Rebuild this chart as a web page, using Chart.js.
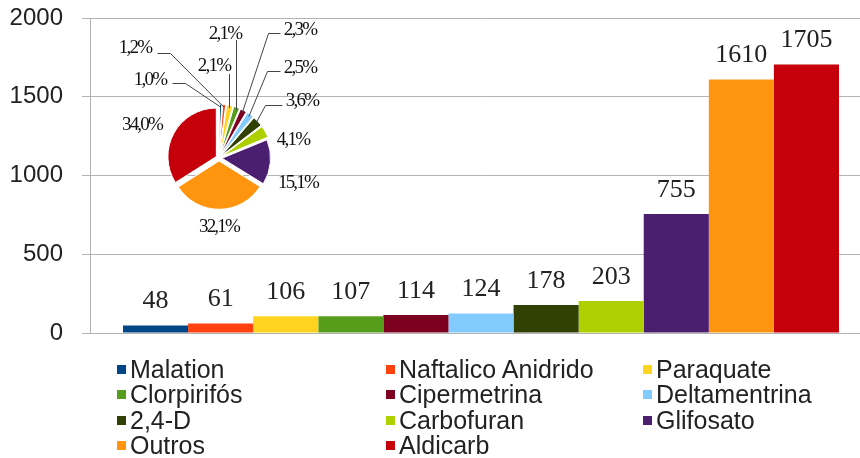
<!DOCTYPE html>
<html>
<head>
<meta charset="utf-8">
<script src="https://cdn.jsdelivr.net/npm/chart.js@4.4.1/dist/chart.umd.min.js"></script>
<style>
  html, body { margin: 0; padding: 0; background: #fff; overflow: hidden; }
  #wrap { position: relative; width: 860px; height: 458px; overflow: hidden; }
  #barCanvas, #pieCanvas { position: absolute; left: 0; top: 0; }
  #pieCanvas { pointer-events: none; }
  #legend {
    position: absolute; left: 117px; top: 357px;
    display: grid; grid-template-columns: 269px 257px auto; grid-auto-rows: 25.3px;
    font: 25px "Liberation Sans", Arial, sans-serif; color: #222;
  }
  .item { display: flex; align-items: center; white-space: nowrap; }
  .sw { width: 9px; height: 9px; margin-right: 4px; flex: none; }
</style>
</head>
<body>
<div id="wrap">
  <canvas id="barCanvas" width="872" height="458"></canvas>
  <canvas id="pieCanvas" width="860" height="458"></canvas>
  <div id="legend"></div>
</div>
<script>
// pesticide names, counts and series colours
const names = ['Malation', 'Naftalico  Anidrido', 'Paraquate', 'Clorpirifós', 'Cipermetrina',
  'Deltamentrina', '2,4-D', 'Carbofuran', 'Glifosato', 'Outros', 'Aldicarb'];
const counts = [48, 61, 106, 107, 114, 124, 178, 203, 755, 1610, 1705];
const colors = ['#004586', '#ff420e', '#ffd320', '#579d1c', '#7e0021',
  '#83caff', '#314004', '#aecf00', '#4b1f6f', '#ff950e', '#c5000b'];
const yTicks = [0, 500, 1000, 1500, 2000];

// where each pie percentage sits, relative to the pie centre, plus its leader line
const pieSpots = [
  { text: [-69, -78], elbow: [[-47, -75], [-34, -75]] },
  { text: [-84, -110], elbow: [[-62, -105], [-49, -105]] },
  { text: [-5, -92], drop: -84 },
  { text: [6, -124], drop: -118 },
  { text: [81, -128], elbow: [[61, -125], [49, -125]] },
  { text: [81, -90], elbow: [[61, -87], [48, -87]] },
  { text: [83, -57], elbow: [[63, -53], [46, -53]] },
  { text: [74, -18] },
  { text: [79, 25] },
  { text: [0, 69] },
  { text: [-77, -33] }
];

const serif = '"Liberation Serif", "Times New Roman", serif';
const sans = '"Liberation Sans", Arial, sans-serif';

// numbers above each bar
const valueLabels = {
  id: 'valueLabels',
  afterDatasetsDraw(chart) {
    const ctx = chart.ctx;
    ctx.save();
    ctx.font = '26px ' + serif;
    ctx.fillStyle = '#222';
    ctx.textAlign = 'center';
    ctx.textBaseline = 'alphabetic';
    chart.data.datasets.forEach((ds, i) => {
      const bar = chart.getDatasetMeta(i).data[0];
      ctx.fillText(String(ds.data[0]), bar.x, bar.y - 17);
    });
    ctx.restore();
  }
};

new Chart(document.getElementById('barCanvas'), {
  type: 'bar',
  data: {
    labels: [''],
    datasets: names.map((n, i) => ({
      label: n,
      data: [counts[i]],
      backgroundColor: colors[i],
      barPercentage: 1,
      categoryPercentage: 0.9156
    }))
  },
  options: {
    responsive: false,
    animation: false,
    layout: { padding: { top: 18, bottom: 125, left: 0, right: 0 } },
    plugins: { legend: { display: false }, tooltip: { enabled: false } },
    scales: {
      x: { display: false },
      y: {
        min: 0,
        max: 2000,
        afterBuildTicks: s => { s.ticks = yTicks.map(v => ({ value: v })); },
        afterFit: s => {
          s.width = 90;
          s.paddingTop = 0;
          s.paddingBottom = 0;
        },
        grid: { color: '#b3b3b3', tickLength: 8 },
        border: { color: '#b3b3b3' },
        ticks: {
          padding: 19,
          color: '#222',
          font: { family: sans, size: 24 },
          callback: v => String(v)
        }
      }
    }
  },
  plugins: [valueLabels]
});

// percentages and leader lines around the pie
const pieLabels = {
  id: 'pieLabels',
  afterDatasetsDraw(chart) {
    const ctx = chart.ctx;
    const arcs = chart.getDatasetMeta(0).data;
    const total = counts.reduce((a, b) => a + b, 0);
    ctx.save();
    ctx.strokeStyle = '#444';
    ctx.lineWidth = 1;
    ctx.fillStyle = '#111';
    ctx.font = '19px ' + serif;
    ctx.letterSpacing = '-1.8px';
    ctx.textAlign = 'center';
    ctx.textBaseline = 'middle';
    arcs.forEach((arc, i) => {
      const cx = arc.x, cy = arc.y;
      const mid = (arc.startAngle + arc.endAngle) / 2;
      const r = arc.outerRadius + 3;
      const ax = cx + Math.cos(mid) * r, ay = cy + Math.sin(mid) * r;
      const spot = pieSpots[i];
      if (spot.elbow) {
        ctx.beginPath();
        ctx.moveTo(cx + spot.elbow[0][0] + 0.5, cy + spot.elbow[0][1] + 0.5);
        spot.elbow.slice(1).forEach(p => ctx.lineTo(cx + p[0] + 0.5, cy + p[1] + 0.5));
        ctx.lineTo(ax, ay);
        ctx.stroke();
      } else if (spot.drop !== undefined) {
        ctx.beginPath();
        ctx.moveTo(Math.round(ax) + 0.5, cy + spot.drop);
        ctx.lineTo(Math.round(ax) + 0.5, ay);
        ctx.stroke();
      }
      const pct = (counts[i] / total * 100).toFixed(1).replace('.', ',') + '%';
      ctx.fillText(pct, cx + spot.text[0], cy + spot.text[1]);
    });
    ctx.restore();
  }
};

new Chart(document.getElementById('pieCanvas'), {
  type: 'pie',
  data: {
    labels: names,
    datasets: [{
      data: counts,
      backgroundColor: colors,
      borderColor: '#fff',
      borderWidth: 1,
      offset: 12,
      radius: 48
    }]
  },
  options: {
    responsive: false,
    animation: false,
    events: [],
    layout: { padding: { left: 119, right: 541, top: 58, bottom: 200 } },
    plugins: { legend: { display: false }, tooltip: { enabled: false } }
  },
  plugins: [pieLabels]
});

// legend in three columns
const legend = document.getElementById('legend');
names.forEach((n, i) => {
  const item = document.createElement('div');
  item.className = 'item';
  const sw = document.createElement('span');
  sw.className = 'sw';
  sw.style.background = colors[i];
  const label = document.createElement('span');
  label.textContent = n;
  item.appendChild(sw);
  item.appendChild(label);
  legend.appendChild(item);
});
</script>
</body>
</html>
